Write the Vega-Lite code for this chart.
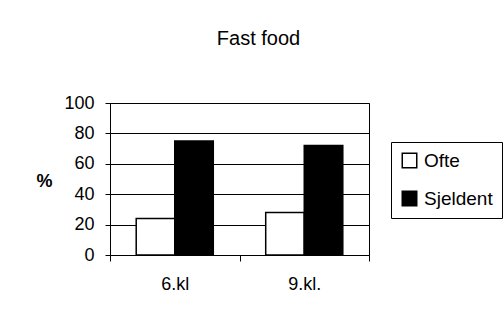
{
  "$schema": "https://vega.github.io/schema/vega-lite/v6.json",
  "width": 259,
  "height": 152,
  "autosize": {"type": "none"},
  "padding": {"left": 110, "top": 103, "right": 135, "bottom": 67},
  "background": "white",
  "title": {"text": "Fast food", "fontSize": 20, "font": "Liberation Sans", "fontWeight": "normal", "color": "black", "anchor": "middle", "dx": 19, "offset": 45},
  "config": {
    "font": "Liberation Sans",
    "view": {"stroke": "black", "strokeWidth": 1}
  },
  "data": {"values": [
    {"kl": "6.kl", "type": "Ofte", "v": 24},
    {"kl": "6.kl", "type": "Sjeldent", "v": 75},
    {"kl": "9.kl.", "type": "Ofte", "v": 28},
    {"kl": "9.kl.", "type": "Sjeldent", "v": 72}
  ]},
  "mark": {"type": "bar", "stroke": "black", "strokeWidth": 1.5},
  "encoding": {
    "x": {"field": "kl", "type": "nominal", "sort": ["6.kl", "9.kl."],
      "scale": {"paddingInner": 0, "paddingOuter": 0},
      "axis": {"title": null, "labelAngle": 0, "tickBand": "extent", "domain": false, "tickColor": "black", "tickSize": 6, "labelFontSize": 18, "labelPadding": 14, "labelColor": "black", "grid": false}},
    "xOffset": {"field": "type", "type": "nominal", "sort": ["Ofte", "Sjeldent"], "scale": {"paddingOuter": 0.68, "paddingInner": 0}},
    "y": {"field": "v", "type": "quantitative", "scale": {"domain": [0, 100], "nice": false},
      "axis": {"values": [0, 20, 40, 60, 80, 100], "gridColor": "black", "gridOpacity": 1, "gridWidth": 1, "domain": false, "tickColor": "black", "tickSize": 5, "labelFontSize": 18, "labelColor": "black", "labelPadding": 11,
        "title": "%", "titleAngle": 0, "titleFontWeight": "bold", "titleFontSize": 18, "titleColor": "black", "titleX": -66, "titleY": 78, "titleAlign": "center", "titleBaseline": "middle"}},
    "color": {"field": "type", "type": "nominal", "sort": ["Ofte", "Sjeldent"], "scale": {"domain": ["Ofte", "Sjeldent"], "range": ["white", "black"]},
      "legend": {"title": null, "orient": "none", "legendX": 281, "legendY": 39, "strokeColor": "black", "fillColor": "white", "padding": 9, "labelFontSize": 19, "labelColor": "black", "rowPadding": 17, "symbolType": "square", "symbolSize": 210, "symbolStrokeColor": "black", "symbolStrokeWidth": 1.5, "labelOffset": 5}}
  }
}
